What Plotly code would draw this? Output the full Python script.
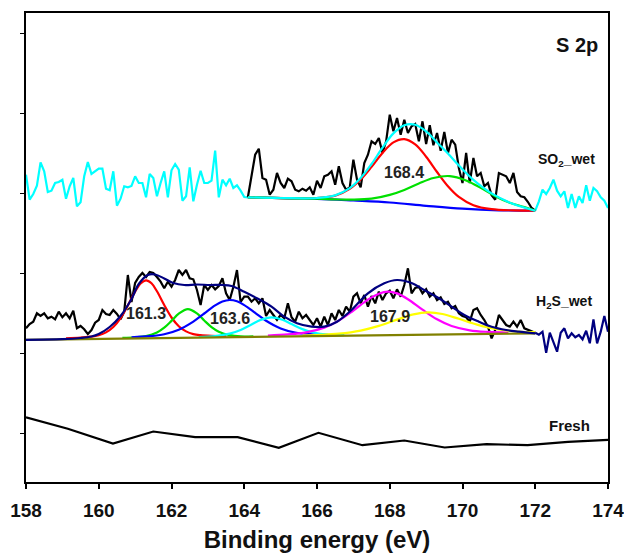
import numpy as np
import plotly.graph_objects as go

# ---------------- measured spectra (intensity in a.u., 0.1 eV step) ----------------
energy = np.round(np.linspace(158.0, 174.0, 161), 1)

so2_wet = [
    307.3, 282.3, 288.0, 296.3, 319.7, 310.7, 290.0, 291.3, 299.0, 300.0,
    302.3, 283.3, 295.7, 304.0, 275.7, 279.7, 305.7, 320.0, 308.0, 310.7,
    313.3, 313.3, 293.3, 291.7, 310.7, 276.3, 283.3, 295.7, 294.7, 296.0,
    305.7, 299.0, 299.0, 284.7, 308.0, 304.0, 285.7, 299.0, 310.7, 284.7,
    311.7, 318.0, 312.3, 281.3, 285.7, 314.7, 280.7, 297.3, 311.3, 299.0,
    299.0, 301.3, 331.3, 284.7, 302.3, 296.7, 303.3, 294.0, 296.7, 291.3,
    285.0, 284.7, 307.3, 327.3, 333.3, 304.0, 302.3, 287.3, 292.3, 309.0,
    299.0, 294.0, 303.3, 300.7, 292.3, 290.7, 293.3, 291.3, 294.7, 287.3,
    301.3, 294.0, 305.7, 307.3, 310.7, 297.3, 315.7, 299.0, 292.3, 294.7,
    322.3, 302.3, 294.7, 319.0, 327.3, 340.7, 338.0, 344.0, 329.0, 340.7,
    367.3, 350.7, 364.0, 347.3, 362.3, 349.0, 355.7, 358.0, 340.7, 360.7,
    338.0, 356.7, 336.7, 349.0, 331.3, 350.0, 329.0, 342.3, 337.3, 314.0,
    299.0, 329.0, 299.0, 324.0, 305.7, 309.0, 295.7, 299.0, 286.7, 282.3,
    309.0, 307.3, 305.7, 299.0, 309.0, 290.0, 285.7, 284.7, 280.0, 274.0,
    271.3, 280.7, 292.3, 288.0, 294.0, 302.3, 291.3, 285.7, 290.7, 274.0,
    288.0, 274.0, 285.7, 279.0, 296.7, 281.3, 294.0, 290.7, 284.7, 281.3,
    274.0,
]

h2s_wet = [
    153.7, 158.0, 160.3, 168.7, 166.0, 168.7, 163.7, 165.3, 162.7, 170.3,
    164.7, 168.7, 163.7, 171.3, 153.7, 156.0, 152.7, 148.0, 152.0, 159.3,
    162.0, 172.0, 168.0, 167.0, 172.0, 168.0, 162.7, 170.3, 207.0, 180.0,
    199.0, 205.0, 209.0, 205.0, 210.0, 209.0, 205.0, 200.3, 193.7, 200.3,
    195.3, 202.0, 212.0, 207.0, 212.0, 203.7, 202.7, 192.0, 177.0, 197.0,
    192.0, 197.0, 192.7, 196.0, 203.7, 188.7, 182.0, 195.0, 212.0, 180.0,
    185.3, 185.3, 180.3, 183.7, 178.7, 183.7, 166.0, 172.0, 167.0, 162.0,
    167.0, 163.7, 178.7, 164.7, 160.3, 170.3, 163.7, 167.0, 162.0, 157.0,
    163.7, 155.3, 165.3, 157.0, 168.7, 162.0, 172.0, 166.0, 175.3, 170.3,
    185.3, 188.7, 178.7, 187.0, 175.3, 186.0, 178.7, 190.3, 182.0, 188.7,
    191.3, 183.7, 192.7, 185.3, 197.0, 213.7, 188.7, 194.0, 195.3, 188.7,
    192.7, 185.3, 188.7, 182.0, 184.7, 178.0, 180.3, 173.7, 176.0, 168.7,
    166.0, 164.7, 160.3, 172.0, 173.7, 167.0, 162.0, 155.3, 143.7, 152.0,
    167.0, 162.0, 157.0, 155.3, 160.3, 155.3, 162.0, 153.7, 152.0, 150.3,
    149.3, 147.3, 150.3, 129.3, 149.3, 140.3, 130.3, 149.3, 153.7, 143.7,
    148.7, 144.7, 147.0, 142.7, 151.3, 138.7, 162.7, 138.7, 150.3, 166.0,
    150.3,
]

fresh_energy = [158.0, 159.15, 160.39, 161.50, 162.65, 163.82, 164.95, 166.04,
                167.25, 168.40, 169.51, 170.66, 171.79, 172.9, 174.0]
fresh = [64.6, 53.2, 38.5, 50.5, 44.8, 44.8, 34.1, 49.2, 36.8, 41.5, 34.5,
         37.8, 36.8, 40.2, 42.2]

# ---------------- SO2_wet peak fit (164.1-172.0 eV) ----------------
so2_bg_x = [164.1, 165.0, 166.0, 167.0, 168.0, 169.0, 170.0, 171.0, 172.0]
so2_bg_y = [284.7, 283.8, 283.2, 281.5, 279.5, 276.2, 273.3, 271.7, 271.3]

so2_p1_x = [164.1, 165.4, 166.0, 166.5, 166.9, 167.2, 167.5, 167.8, 168.1, 168.4,
            168.7, 169.0, 169.3, 169.6, 169.9, 170.3, 170.8, 171.4, 172.0]
so2_p1_y = [284.7, 283.7, 284.0, 286.4, 293.2, 302.5, 315.2, 329.0, 339.6, 342.9,
            337.6, 325.3, 310.0, 295.8, 285.1, 276.8, 272.8, 271.6, 271.3]

so2_p2_x = [164.1, 165.0, 166.0, 166.5, 167.0, 167.5, 168.0, 168.4, 168.8, 169.2,
            169.65, 170.1, 170.5, 170.9, 171.3, 171.7, 172.0]
so2_p2_y = [284.7, 283.9, 283.3, 282.6, 282.3, 283.3, 287.1, 292.1, 298.5, 304.0,
            305.9, 301.5, 294.1, 285.8, 279.2, 274.9, 271.3]

so2_env_x = [164.1, 165.0, 166.0, 166.5, 166.9, 167.2, 167.5, 167.8, 168.1, 168.4,
             168.7, 169.0, 169.3, 169.6, 169.9, 170.3, 170.8, 171.4, 172.0]
so2_env_y = [284.7, 284.0, 284.0, 286.6, 293.8, 303.9, 318.0, 334.3, 348.6, 356.8,
             357.3, 350.6, 339.6, 328.5, 316.5, 302.1, 288.6, 277.9, 271.3]

# ---------------- H2S_wet peak fit (158.0-172.0 eV) ----------------
h2s_bg_x = [158.0, 165.0, 172.0]
h2s_bg_y = [142.2, 145.4, 148.6]

h2s_p1_x = [159.1, 159.5, 159.8, 160.0, 160.2, 160.4, 160.6, 160.8, 161.0, 161.15,
            161.3, 161.45, 161.6, 161.8, 162.0, 162.2, 162.4, 162.6, 162.8, 163.1, 163.5]
h2s_p1_y = [143.7, 144.5, 145.4, 146.8, 149.6, 155.0, 163.9, 176.6, 190.4, 198.5,
            201.7, 198.7, 190.7, 177.0, 164.5, 155.8, 150.6, 147.9, 146.8, 146.1, 145.7]

h2s_p2_x = [160.65, 161.0, 161.3, 161.6, 161.8, 162.0, 162.2, 162.45, 162.7, 162.9,
            163.1, 163.3, 163.6, 163.9, 164.25]
h2s_p2_y = [144.1, 144.7, 145.9, 149.5, 154.3, 161.1, 168.3, 172.9, 168.6, 161.5,
            154.9, 150.3, 146.8, 145.6, 145.7]

h2s_p3_x = [160.9, 161.4, 161.8, 162.2, 162.6, 162.9, 163.2, 163.4, 163.6, 163.8,
            164.0, 164.3, 164.6, 165.0, 165.4, 165.8, 166.3]
h2s_p3_y = [144.7, 145.8, 147.8, 152.3, 160.4, 168.5, 176.6, 180.5, 182.0, 180.7,
            176.9, 169.2, 161.3, 153.6, 149.5, 147.8, 147.1]

h2s_p4_x = [162.75, 163.2, 163.6, 163.9, 164.2, 164.45, 164.75, 165.05, 165.3, 165.6,
            165.9, 166.3, 166.75]
h2s_p4_y = [145.0, 146.0, 148.4, 152.1, 157.5, 162.1, 164.7, 162.3, 158.0, 152.9,
            149.5, 147.4, 146.9]

h2s_p5_x = [164.65, 165.2, 165.7, 166.2, 166.6, 167.0, 167.4, 167.7, 167.95, 168.2,
            168.5, 168.9, 169.3, 169.7, 170.2, 170.7, 171.25]
h2s_p5_y = [146.5, 147.6, 149.6, 154.4, 161.4, 171.4, 182.3, 188.3, 190.3, 188.6,
            182.8, 172.3, 162.7, 156.0, 151.7, 150.1, 149.5]

h2s_p6_x = [165.6, 166.1, 166.6, 167.2, 167.7, 168.2, 168.65, 169.05, 169.45, 169.9,
            170.4, 170.9, 171.5, 172.0]
h2s_p6_y = [146.5, 147.1, 148.3, 151.4, 156.1, 162.4, 167.6, 169.7, 168.0, 163.2,
            157.4, 153.1, 150.5, 149.8]

h2s_env_x = [158.0, 159.0, 159.5, 159.8, 160.0, 160.3, 160.6, 160.9, 161.1, 161.35,
             161.55, 161.8, 162.05, 162.35, 162.7, 163.05, 163.4, 163.65, 164.0, 164.35,
             164.75, 165.1, 165.45, 165.85, 166.2, 166.55, 166.95, 167.4, 167.85, 168.2,
             168.6, 168.95, 169.35, 169.7, 170.05, 170.45, 170.8, 171.2, 171.55, 172.0]
h2s_env_y = [142.2, 142.8, 144.0, 145.5, 148.0, 155.0, 166.0, 183.0, 198.0, 207.0,
             207.5, 203.5, 199.0, 197.0, 197.5, 197.0, 197.0, 196.0, 190.3, 183.7,
             175.3, 165.3, 158.7, 155.3, 155.3, 160.3, 172.0, 188.7, 198.7, 202.0,
             199.0, 192.0, 183.7, 175.3, 167.0, 160.3, 155.3, 152.0, 150.3, 148.6]

# peak positions printed on the chart (eV) and their label heights
peak_labels = ["168.4", "161.3", "163.6", "167.9"]
peak_label_x = [168.4, 161.3, 163.6, 168.0]
peak_label_y = [310.0, 168.5, 163.5, 165.5]

FONT = "Liberation Sans, Arial, sans-serif"
LW = 2.2

fig = go.Figure()


def add_line(x, y, color, shape="linear", width=LW):
    fig.add_trace(go.Scatter(x=list(x), y=list(y), mode="lines",
                             line=dict(color=color, width=width, shape=shape),
                             showlegend=False, hoverinfo="skip"))


# ---- Fresh ----
add_line(fresh_energy, fresh, "black")

# ---- H2S_wet ----
add_line(energy[:141], h2s_wet[:141], "black")
add_line(h2s_p1_x, h2s_p1_y, "#FF0000", "spline")
add_line(h2s_p2_x, h2s_p2_y, "#00E000", "spline")
add_line(h2s_p3_x, h2s_p3_y, "#0000FF", "spline")
add_line(h2s_p4_x, h2s_p4_y, "#00FFFF", "spline")
add_line(h2s_p5_x, h2s_p5_y, "#FF00FF", "spline")
add_line(h2s_p6_x, h2s_p6_y, "#FFFF00", "spline")
add_line(h2s_bg_x, h2s_bg_y, "#808000")
add_line(h2s_env_x, h2s_env_y, "#000080", "spline")
add_line(energy[140:], h2s_wet[140:], "#000080")

# ---- SO2_wet ----
add_line(energy[:62], so2_wet[:62], "#00FFFF")
add_line(energy[61:141], so2_wet[61:141], "black")
add_line(energy[140:], so2_wet[140:], "#00FFFF")
add_line(so2_bg_x, so2_bg_y, "#0000FF", "spline")
add_line(so2_p1_x, so2_p1_y, "#FF0000", "spline")
add_line(so2_p2_x, so2_p2_y, "#00E000", "spline")
add_line(so2_env_x, so2_env_y, "#00FFFF", "spline")

annotations = []
for txt, xx, yy in zip(peak_labels, peak_label_x, peak_label_y):
    annotations.append(dict(x=xx, y=yy, text=txt, showarrow=False,
                            font=dict(family=FONT, size=16, color="#222222", weight="bold")))

for txt, xx, yy, sz in [("SO<sub>2</sub>_wet", 172.85, 322.0, 14),
                        ("H<sub>2</sub>S_wet", 172.8, 180.5, 14),
                        ("Fresh", 172.95, 57.0, 15),
                        ("S 2p", 173.15, 437.0, 20)]:
    annotations.append(dict(x=xx, y=yy, text=txt, showarrow=False,
                            font=dict(family=FONT, size=sz, color="#111111", weight="bold")))

fig.update_layout(
    width=624, height=557,
    margin=dict(l=26, r=16, t=13, b=75, autoexpand=False),
    paper_bgcolor="white", plot_bgcolor="white",
    annotations=annotations,
    xaxis=dict(range=[158, 174], tick0=158, dtick=2, ticks="outside", ticklen=5,
               tickwidth=1.5, tickcolor="black", showline=True, linewidth=1.5,
               linecolor="black", mirror=True, showgrid=False, zeroline=False,
               automargin=False, ticklabelstandoff=5, ticklabeloverflow="allow",
               tickfont=dict(family=FONT, size=19, color="#111111", weight="bold"),
               title=dict(text="Binding energy (eV)", standoff=12,
                          font=dict(family=FONT, size=24, color="#111111", weight="bold"))),
    yaxis=dict(range=[0, 469], tickvals=[49, 129, 209, 289, 369, 449], ticks="outside",
               ticklen=4, tickwidth=1, tickcolor="black", showticklabels=False,
               showline=True, linewidth=1.5, linecolor="black", mirror=True,
               showgrid=False, zeroline=False, automargin=False),
)

fig.write_html("out.html")
